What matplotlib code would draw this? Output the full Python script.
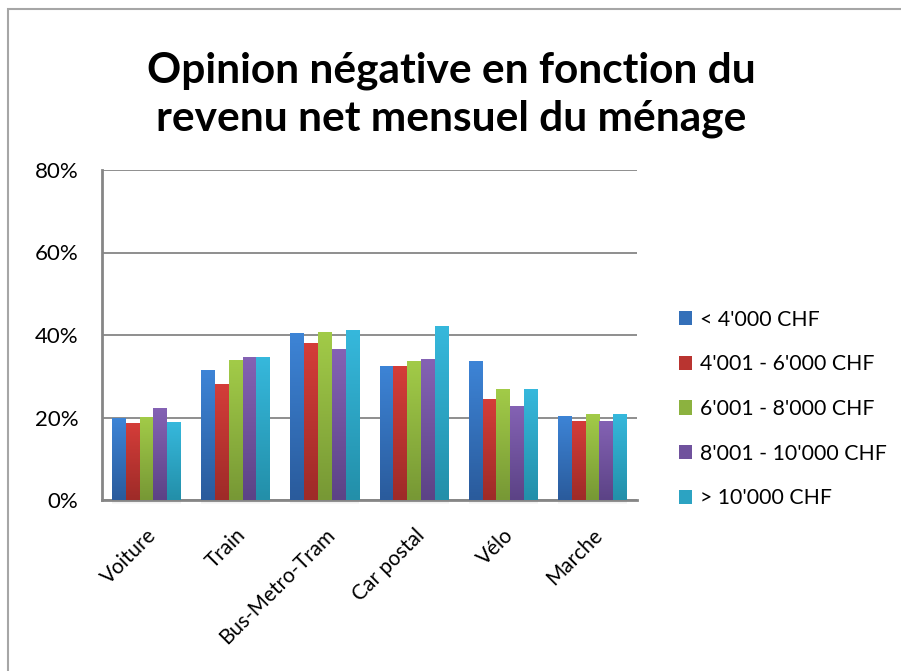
import numpy as np
import matplotlib
matplotlib.use("Agg")
import matplotlib.pyplot as plt
import matplotlib.colors as mcolors
from matplotlib.patches import Rectangle, Patch

plt.rcParams["font.family"] = ["Lato", "DejaVu Sans"]

# ── Data ──
categories = ["Voiture", "Train", "Bus-Metro-Tram", "Car postal", "Vélo", "Marche"]
series_labels = ["< 4'000 CHF", "4'001 - 6'000 CHF", "6'001 - 8'000 CHF",
                 "8'001 - 10'000 CHF", "> 10'000 CHF"]
rev_lt4000 = [19.8, 31.5, 40.4, 32.5, 33.6, 20.4]
rev_4001_6000 = [18.6, 28.1, 38.1, 32.5, 24.6, 19.2]
rev_6001_8000 = [20.2, 33.9, 40.8, 33.8, 26.8, 20.8]
rev_8001_10000 = [22.2, 34.6, 36.5, 34.1, 22.9, 19.2]
rev_gt10000 = [18.8, 34.6, 41.2, 42.2, 26.8, 20.8]
series_values = [rev_lt4000, rev_4001_6000, rev_6001_8000, rev_8001_10000, rev_gt10000]

# (top colour, bottom colour) for each series gradient
grad_colors = [
    ("#3d84d6", "#2a5b9c"),
    ("#d43d39", "#9e2b28"),
    ("#a2cb48", "#779835"),
    ("#8462b4", "#5c4386"),
    ("#36b8dc", "#238fa9"),
]

# ── Figure ──
fig = plt.figure(figsize=(9.01, 6.71), dpi=100)
fig.patch.set_facecolor("white")

# outer chart frame (cropped on right / bottom)
fig.add_artist(Rectangle((8 / 901, -0.1), 1.2, 1 - 9 / 671 + 0.1,
                         transform=fig.transFigure, fill=False,
                         edgecolor="#a6a6a6", linewidth=1.5))

ax = fig.add_axes([102 / 901, 1 - 500 / 671, (637 - 102) / 901, (500 - 170) / 671])

n_s = len(series_values)
x = np.arange(len(categories))
bar_w = 0.155

handles = []
for si, (vals, lab, (ctop, cbot)) in enumerate(zip(series_values, series_labels, grad_colors)):
    offs = (si - (n_s - 1) / 2) * bar_w
    bars = ax.bar(x + offs, vals, width=bar_w, color=ctop, linewidth=0, zorder=3)
    cmap = mcolors.LinearSegmentedColormap.from_list(f"g{si}", [cbot, ctop])
    grad = np.linspace(0, 1, 64).reshape(-1, 1)
    for b in bars:
        x0, y0 = b.get_x(), b.get_y()
        w, h = b.get_width(), b.get_height()
        im = ax.imshow(grad, cmap=cmap, origin="lower", aspect="auto",
                       extent=(x0, x0 + w, y0, y0 + h), zorder=4)
        im.set_clip_path(b)
    handles.append(Patch(facecolor=mcolors.to_hex(
        np.mean([mcolors.to_rgb(ctop), mcolors.to_rgb(cbot)], axis=0)), label=lab))

# soft shadow under each group
for xi in x:
    for k, a in enumerate([0.18, 0.10, 0.05]):
        ax.add_patch(Rectangle((xi - 2.5 * bar_w, -0.35 - 0.35 * k), 5 * bar_w, 0.35,
                               facecolor="#808080", alpha=a, linewidth=0,
                               clip_on=False, zorder=2))

ax.set_xlim(-0.5, len(categories) - 0.5)
ax.set_ylim(0, 80)
ax.set_yticks([0, 20, 40, 60, 80])
ax.set_yticklabels(["0%", "20%", "40%", "60%", "80%"], fontsize=16)
ax.yaxis.grid(True, color="#868686", linewidth=1.3, zorder=0)
ax.set_axisbelow(True)
ax.tick_params(axis="y", length=0, pad=17)
ax.tick_params(axis="x", length=0, pad=18)
ax.set_xticks(x)
ax.set_xticklabels(categories, rotation=45, ha="right", va="top",
                   rotation_mode="anchor", fontsize=15)
for s in ["top", "right"]:
    ax.spines[s].set_visible(False)
for s in ["left", "bottom"]:
    ax.spines[s].set_color("#868686")
    ax.spines[s].set_linewidth(2)

fig.text(451 / 901, 1 - 95 / 671,
         "Opinion négative en fonction du\nrevenu net mensuel du ménage",
         ha="center", va="center", fontsize=30.5, fontweight="bold",
         linespacing=1.3)

ax.legend(handles=handles, loc="center left", bbox_to_anchor=(1.062, 0.276),
          frameon=False, fontsize=15.3, labelspacing=1.16,
          handlelength=0.65, handleheight=0.65, handletextpad=0.35,
          borderaxespad=0)

fig.savefig("out.png", dpi=100)
